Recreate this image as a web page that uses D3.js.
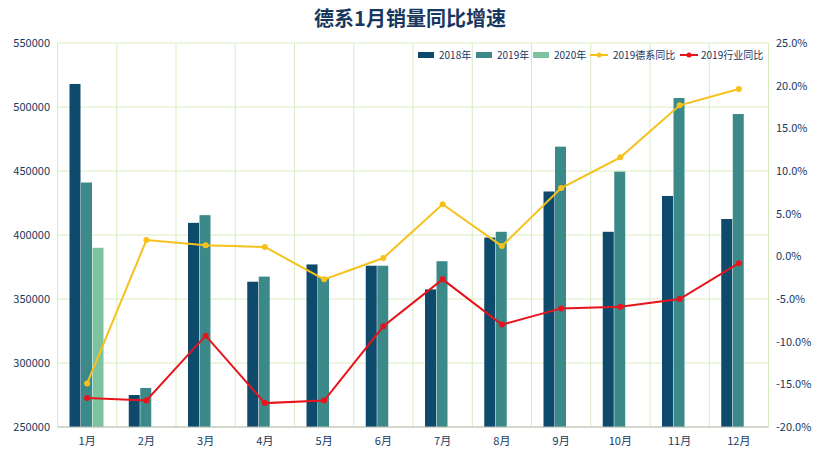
<!DOCTYPE html>
<html><head><meta charset="utf-8">
<script src="https://cdn.jsdelivr.net/npm/d3@7"></script>
<style>body{margin:0;background:#fff}svg{font-family:"Noto Sans CJK SC","Noto Sans",sans-serif}</style>
</head><body><svg id="c" width="820" height="461"></svg>
<script>
const months=["1月","2月","3月","4月","5月","6月","7月","8月","9月","10月","11月","12月"];
const sales2018=[518000,275000,409500,363500,377000,376000,357500,398000,434000,402500,430500,412500];
const sales2019=[441000,280500,415500,367500,367000,376000,379500,402500,469000,449500,507000,494500];
const sales2020=[390000,null,null,null,null,null,null,null,null,null,null,null];
const germanYoY=[-14.9,1.9,1.3,1.1,-2.7,-0.2,6.1,1.2,8.0,11.6,17.7,19.6];
const industryYoY=[-16.6,-16.9,-9.3,-17.2,-16.9,-8.2,-2.7,-8.0,-6.1,-5.9,-5.0,-0.8];
const leftTicks=[250000,300000,350000,400000,450000,500000,550000];
const rightTicks=[-20,-15,-10,-5,0,5,10,15,20,25];

const svg=d3.select("#c");
const L=57.5,R=768.5,T=43,B=427;
const x=d3.scaleBand().domain(months).range([L,R]);
const yL=d3.scaleLinear().domain([250000,550000]).range([B,T]);
const yR=d3.scaleLinear().domain([-20,25]).range([B,T]);
const grid="#d8ecc0";
svg.append("g").selectAll("line").data(leftTicks).join("line")
 .attr("x1",L).attr("x2",R).attr("y1",d=>yL(d)).attr("y2",d=>yL(d)).attr("stroke",grid);
svg.append("g").selectAll("line").data(d3.range(months.length+1)).join("line")
 .attr("x1",i=>L+i*x.step()).attr("x2",i=>L+i*x.step()).attr("y1",T).attr("y2",B).attr("stroke",grid);

svg.append("text").attr("x",410).attr("y",26).attr("text-anchor","middle").attr("font-size",20)
 .attr("font-weight","bold").attr("fill","#17375e").text("德系1月销量同比增速");

const bw=11.5;
const series=[[sales2018,"#0e4a6c",0],[sales2019,"#3b8a89",1],[sales2020,"#7dc3a0",2]];
series.forEach(([vals,col,k])=>{
 svg.append("g").selectAll("rect").data(months.map((m,i)=>({m,v:vals[i]})).filter(d=>d.v!=null)).join("rect")
  .attr("x",d=>x(d.m)+12+k*bw).attr("width",bw-0.5).attr("y",d=>yL(d.v)).attr("height",d=>B-yL(d.v)).attr("fill",col);
});
svg.append("line").attr("x1",L).attr("x2",R).attr("y1",B).attr("y2",B).attr("stroke","#bbb");

const cx=m=>x(m)+x.bandwidth()/2;
[[germanYoY,"#f7c11b"],[industryYoY,"#e8131b"]].forEach(([vals,col])=>{
 svg.append("path").datum(vals).attr("fill","none").attr("stroke",col).attr("stroke-width",2)
  .attr("d",d3.line().x((d,i)=>cx(months[i])).y(d=>yR(d)));
 svg.append("g").selectAll("circle").data(vals).join("circle")
  .attr("cx",(d,i)=>cx(months[i])).attr("cy",d=>yR(d)).attr("r",3).attr("fill",col);
});

svg.append("g").selectAll("text").data(leftTicks).join("text")
 .attr("x",50).attr("y",d=>yL(d)+4).attr("text-anchor","end").attr("font-size",11).attr("fill","#17375e").text(d=>d);
svg.append("g").selectAll("text").data(rightTicks).join("text")
 .attr("x",776).attr("y",d=>yR(d)+4).attr("font-size",11).attr("fill","#17375e").text(d=>d.toFixed(1)+"%");
svg.append("g").selectAll("text").data(months).join("text")
 .attr("x",d=>cx(d)).attr("y",445).attr("text-anchor","middle").attr("font-size",11).attr("fill","#17375e").text(d=>d);

const leg=[["2018年","#0e4a6c","rect",418,439],["2019年","#3b8a89","rect",476,497],["2020年","#7dc3a0","rect",533,554],["2019德系同比","#f7c11b","line",590,613],["2019行业同比","#e8131b","line",680,701]];
leg.forEach(([t,c,type,lx,tx])=>{
 const g=svg.append("g");
 if(type==="rect") g.append("rect").attr("x",lx).attr("y",52).attr("width",16).attr("height",6).attr("fill",c);
 else{g.append("line").attr("x1",lx).attr("x2",lx+18).attr("y1",55).attr("y2",55).attr("stroke",c).attr("stroke-width",2);
  g.append("circle").attr("cx",lx+9).attr("cy",55).attr("r",2.5).attr("fill",c);}
 g.append("text").attr("x",tx).attr("y",59).attr("font-size",10).attr("fill","#17375e").text(t);
});
</script></body></html>
